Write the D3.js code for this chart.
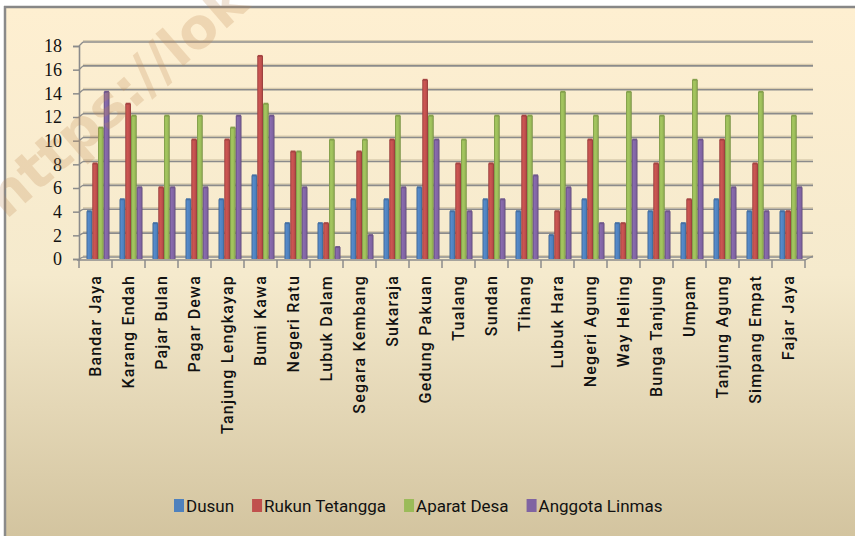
<!DOCTYPE html>
<html>
<head>
<meta charset="utf-8">
<script src="https://cdn.jsdelivr.net/npm/d3@7"></script>
<style>
  body { margin: 0; background: #fff; }
  svg { display: block; }
</style>
</head>
<body>
<svg width="855" height="536"></svg>
<script>
var desa = ["Bandar Jaya", "Karang Endah", "Pajar Bulan", "Pagar Dewa", "Tanjung Lengkayap",
  "Bumi Kawa", "Negeri Ratu", "Lubuk Dalam", "Segara Kembang", "Sukaraja", "Gedung Pakuan",
  "Tualang", "Sundan", "Tihang", "Lubuk Hara", "Negeri Agung", "Way Heling", "Bunga Tanjung",
  "Umpam", "Tanjung Agung", "Simpang Empat", "Fajar Jaya"];

var dusun         = [4, 5, 3, 5, 5, 7, 3, 3, 5, 5, 6, 4, 5, 4, 2, 5, 3, 4, 3, 5, 4, 4];
var rukunTetangga = [8, 13, 6, 10, 10, 17, 9, 3, 9, 10, 15, 8, 8, 12, 4, 10, 3, 8, 5, 10, 8, 4];
var aparatDesa    = [11, 12, 12, 12, 11, 13, 9, 10, 10, 12, 12, 10, 12, 12, 14, 12, 14, 12, 15, 12, 14, 12];
var anggotaLinmas = [14, 6, 6, 6, 12, 12, 6, 1, 2, 6, 10, 4, 5, 7, 6, 3, 10, 4, 10, 6, 4, 6];

var seriesNames = ["Dusun", "Rukun Tetangga", "Aparat Desa", "Anggota Linmas"];
var seriesValues = [dusun, rukunTetangga, aparatDesa, anggotaLinmas];
var seriesColors = ["#4f81bd", "#c0504d", "#9bbb59", "#8064a2"];
var yTicks = [0, 2, 4, 6, 8, 10, 12, 14, 16, 18];

var svg = d3.select("svg"),
    width = +svg.attr("width"),
    height = +svg.attr("height");

var defs = svg.append("defs");

// background gradient
var bg = defs.append("linearGradient").attr("id", "bg")
    .attr("x1", 0).attr("y1", 0).attr("x2", 0).attr("y2", 1);
bg.append("stop").attr("offset", "0%").attr("stop-color", "#feefd1");
bg.append("stop").attr("offset", "50%").attr("stop-color", "#f5eacd");
bg.append("stop").attr("offset", "100%").attr("stop-color", "#d2c39e");

svg.append("rect").attr("x", 5).attr("y", 7)
    .attr("width", width).attr("height", height)
    .attr("fill", "url(#bg)");
svg.append("line").attr("x1", 4).attr("x2", width).attr("y1", 7).attr("y2", 7)
    .attr("stroke", "#878787").attr("stroke-width", 2.5);
svg.append("line").attr("x1", 5).attr("x2", 5).attr("y1", 6).attr("y2", height)
    .attr("stroke", "#8a8a8a").attr("stroke-width", 2.5);

// bar gradients (cylinder-ish shading)
seriesColors.forEach(function(c, i) {
  var g = defs.append("linearGradient").attr("id", "bar" + i)
      .attr("x1", 0).attr("y1", 0).attr("x2", 1).attr("y2", 0);
  var base = d3.color(c);
  g.append("stop").attr("offset", "0%").attr("stop-color", base.darker(0.7));
  g.append("stop").attr("offset", "30%").attr("stop-color", base.brighter(0.2));
  g.append("stop").attr("offset", "70%").attr("stop-color", base);
  g.append("stop").attr("offset", "100%").attr("stop-color", base.darker(0.8));
});

var x = d3.scaleBand().domain(desa).range([79, 805]);
var xs = d3.scaleBand().domain(seriesNames).range([7.5, 30.5]);
var y = d3.scaleLinear().domain([0, 18]).range([259, 44]);
var yFront = d3.scaleLinear().domain([0, 18]).range([259, 46]);
var yBack = d3.scaleLinear().domain([0, 18]).range([257, 42]);

// gridlines on the back wall
var grid = svg.append("g").attr("class", "grid");
grid.selectAll("line.hi").data(yTicks).enter().append("line")
    .attr("x1", 83).attr("x2", 813)
    .attr("y1", function(d) { return yBack(d) - 1.5; })
    .attr("y2", function(d) { return yBack(d) - 1.5; })
    .attr("stroke", "#d9ccae").attr("stroke-width", 1.2);
grid.selectAll("line.main").data(yTicks).enter().append("line")
    .attr("x1", 83).attr("x2", 813)
    .attr("y1", function(d) { return yBack(d); })
    .attr("y2", function(d) { return yBack(d); })
    .attr("stroke", "#8b8b8b").attr("stroke-width", 1.6);
grid.selectAll("path").data(yTicks).enter().append("path")
    .attr("d", function(d) { return "M79," + yFront(d) + "L83," + yBack(d); })
    .attr("fill", "none").attr("stroke", "#8b8b8b").attr("stroke-width", 1.3);

// y axis
var yAxis = svg.append("g").attr("transform", "translate(79,0)")
    .call(d3.axisLeft(yFront).tickValues(yTicks).tickSize(6).tickPadding(11));
yAxis.select(".domain").attr("stroke", "#8b8b8b").attr("stroke-width", 1.6);
yAxis.selectAll(".tick line").attr("stroke", "#8b8b8b").attr("stroke-width", 1.5);
yAxis.selectAll(".tick text")
    .attr("font-family", "'Liberation Serif', serif")
    .attr("font-size", 18).attr("fill", "#111");

// floor / x axis
svg.append("line").attr("x1", 77).attr("x2", 805).attr("y1", 260).attr("y2", 260)
    .attr("stroke", "#8b8b8b").attr("stroke-width", 1.6);
svg.append("path").attr("d", "M805,260L813,256")
    .attr("stroke", "#8b8b8b").attr("stroke-width", 1.3).attr("fill", "none");
svg.append("g").selectAll("line").data(desa.concat([null])).enter().append("line")
    .attr("x1", function(d) { return d === null ? x.range()[1] : x(d); })
    .attr("x2", function(d) { return d === null ? x.range()[1] : x(d); })
    .attr("y1", 260).attr("y2", 268)
    .attr("stroke", "#8b8b8b").attr("stroke-width", 1.5);

// bars
var groups = svg.append("g").selectAll("g").data(seriesNames).enter().append("g");
groups.each(function(name, si) {
  var g = d3.select(this);
  var vals = seriesValues[si];
  g.selectAll("rect.bar").data(desa).enter().append("rect")
      .attr("class", "bar")
      .attr("x", function(d) { return x(d) + xs(name); })
      .attr("width", xs.bandwidth())
      .attr("y", function(d, i) { return y(vals[i]); })
      .attr("height", function(d, i) { return y(0) - y(vals[i]); })
      .attr("fill", "url(#bar" + si + ")");
  g.selectAll("rect.cap").data(desa).enter().append("rect")
      .attr("class", "cap")
      .attr("x", function(d) { return x(d) + xs(name) + 0.5; })
      .attr("width", xs.bandwidth() - 1)
      .attr("y", function(d, i) { return y(vals[i]) - 1; })
      .attr("height", 2)
      .attr("fill", d3.color(seriesColors[si]).darker(0.4));
});

// x labels
svg.append("g").selectAll("text").data(desa).enter().append("text")
    .attr("transform", function(d) {
      return "translate(" + (x(d) + x.bandwidth() / 2) + ",275) rotate(-90)";
    })
    .attr("text-anchor", "end")
    .attr("dy", "0.36em")
    .attr("font-family", "Roboto, sans-serif")
    .attr("font-size", 16)
    .attr("font-weight", 500)
    .attr("letter-spacing", 1.2)
    .attr("fill", "#111")
    .text(function(d) { return d; });

// legend
var legend = svg.append("g").attr("transform", "translate(174,506)");
var lx = 0;
seriesNames.forEach(function(name, i) {
  var item = legend.append("g").attr("transform", "translate(" + lx + ",0)");
  item.append("rect").attr("x", 0).attr("y", -7).attr("width", 10).attr("height", 13)
      .attr("fill", seriesColors[i]);
  var t = item.append("text").attr("x", 12).attr("dy", "0.35em")
      .attr("font-family", "Roboto, sans-serif").attr("font-size", 17)
      .attr("fill", "#111").text(name);
  lx += 12 + t.node().getComputedTextLength() + 18;
});

// watermark
svg.append("text")
    .attr("transform", "translate(6,220) rotate(-41)")
    .attr("font-family", "'DejaVu Sans', sans-serif")
    .attr("font-weight", "bold")
    .attr("font-size", 56)
    .attr("fill", "#c08a55")
    .attr("opacity", 0.24)
    .text("https://lok");
</script>
</body>
</html>
